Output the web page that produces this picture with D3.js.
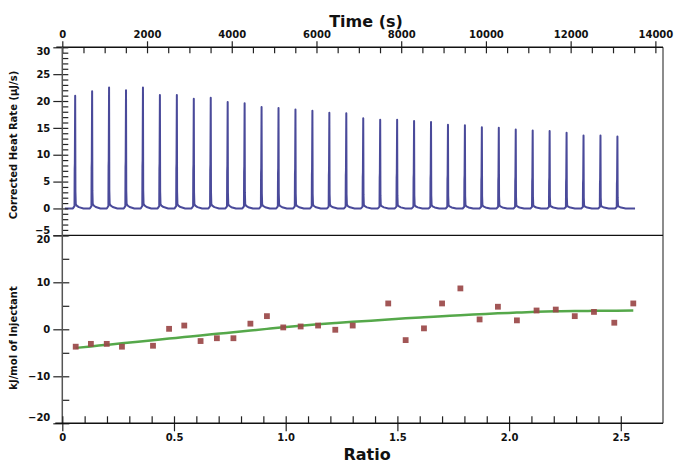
<!DOCTYPE html>
<html>
<head>
<meta charset="utf-8">
<script src="https://cdn.jsdelivr.net/npm/d3@7"></script>
<style>
  html, body { margin: 0; padding: 0; background: #fff; }
  svg { display: block; }
  text { font-family: "DejaVu Sans", sans-serif; font-weight: bold; fill: #111; }
</style>
</head>
<body>
<svg id="chart" width="683" height="472"></svg>
<script>
// ---------- data ----------
const timeTicks = [0, 2000, 4000, 6000, 8000, 10000, 12000, 14000];
const heatRateTicks = [-5, 0, 5, 10, 15, 20, 25, 30];
const ratioTicks = [0, 0.5, 1.0, 1.5, 2.0, 2.5];
const ratioTickLabels = ["0", "0.5", "1.0", "1.5", "2.0", "2.5"];
const enthalpyTicks = [-20, -10, 0, 10, 20];

const injectionTimes = [300, 700, 1100, 1500, 1900, 2300, 2700, 3100, 3500, 3900, 4300,
  4700, 5100, 5500, 5900, 6300, 6700, 7100, 7500, 7900, 8300, 8700, 9100, 9500, 9900,
  10300, 10700, 11100, 11500, 11900, 12300, 12700, 13100];
const peakHeights = [21.0, 21.8, 22.5, 22.0, 22.5, 21.1, 21.1, 20.4, 20.6, 19.8, 19.6,
  18.9, 18.7, 18.4, 18.2, 17.8, 17.7, 16.8, 16.5, 16.5, 16.3, 16.1, 15.6, 15.5, 15.1,
  15.0, 14.7, 14.5, 14.4, 14.1, 13.6, 13.6, 13.4];
// shape of one injection peak: time offset (s) and fraction of peak height
const peakOffsets = [-50, -12, -8, -4, 4, 10, 18, 40, 90, 200];
const peakFractions = [0, 0.02, 0.35, 0.4, 1, 0.15, 0.04, 0.025, 0.012, 0];
const traceStart = 60, traceEnd = 13520;

const ratios = [0.060, 0.128, 0.199, 0.267, 0.406, 0.478, 0.546, 0.619, 0.692, 0.766,
  0.842, 0.916, 0.989, 1.067, 1.145, 1.222, 1.300, 1.459, 1.537, 1.619, 1.700, 1.782,
  1.868, 1.950, 2.035, 2.123, 2.209, 2.294, 2.380, 2.471, 2.556];
const heats = [-3.7, -3.1, -3.1, -3.7, -3.5, 0.1, 0.8, -2.5, -1.9, -1.9, 1.2, 2.8, 0.4,
  0.6, 0.8, -0.1, 0.8, 5.5, -2.3, 0.2, 5.5, 8.7, 2.1, 4.8, 1.9, 4.0, 4.2, 2.8, 3.7, 1.4, 5.5];
const fitHeats = [-3.96, -3.64, -3.30, -2.98, -2.32, -1.98, -1.66, -1.31, -0.97, -0.62,
  -0.26, 0.09, 0.43, 0.75, 1.05, 1.33, 1.60, 2.06, 2.33, 2.56, 2.77, 2.99, 3.20, 3.40,
  3.56, 3.72, 3.82, 3.89, 3.93, 3.97, 3.99];

// ---------- layout ----------
const left = 62.3, right = 663;
const topY = 47.3, midY = 235.3, botY = 423.3;

const svg = d3.select("#chart");

const xTime = d3.scaleLinear().domain([0, 14180]).range([left, right]);
const yRate = d3.scaleLinear().domain([-5, 30]).range([midY, topY]);
const xRatio = d3.scaleLinear().domain([0, 2.689]).range([left, right]);
const yHeat = d3.scaleLinear().domain([-20, 20]).range([botY, midY]);

// ---------- thermogram trace ----------
const trace = [[traceStart, 0]];
injectionTimes.forEach((t, i) => {
  peakOffsets.forEach((o, k) => trace.push([t + o, peakHeights[i] * peakFractions[k]]));
});
trace.push([traceEnd, 0]);

svg.append("path")
  .datum(trace)
  .attr("fill", "none")
  .attr("stroke", "#4a4a9a")
  .attr("stroke-width", 2)
  .attr("stroke-linejoin", "round")
  .attr("d", d3.line().x(d => xTime(d[0])).y(d => yRate(d[1])));

// ---------- bottom panel: fit line and points ----------
svg.append("path")
  .datum(ratios.map((r, i) => [r, fitHeats[i]]))
  .attr("fill", "none")
  .attr("stroke", "#55a84a")
  .attr("stroke-width", 2.5)
  .attr("d", d3.line().curve(d3.curveMonotoneX).x(d => xRatio(d[0])).y(d => yHeat(d[1])));

const sq = 5.8;
svg.append("g").selectAll("rect")
  .data(ratios.map((r, i) => [r, heats[i]]))
  .join("rect")
  .attr("x", d => xRatio(d[0]) - sq / 2)
  .attr("y", d => yHeat(d[1]) - sq / 2)
  .attr("width", sq).attr("height", sq)
  .attr("fill", "#9a4848")
  .attr("opacity", 0.92);

// ---------- frame ----------
svg.append("line").attr("x1", right).attr("x2", right).attr("y1", topY).attr("y2", botY)
  .attr("stroke", "#666").attr("stroke-width", 1.5);
svg.append("line").attr("x1", left).attr("x2", right).attr("y1", midY).attr("y2", midY)
  .attr("stroke", "#111").attr("stroke-width", 1.2);

function styleAxis(g) {
  g.select(".domain").remove();
  g.selectAll("line").attr("stroke", "#222").attr("stroke-width", 1.2);
  g.selectAll("text").attr("font-size", 10).attr("fill", "#111")
    .attr("font-family", "DejaVu Sans").attr("font-weight", "bold");
}

// top time axis
svg.append("g").attr("transform", `translate(0,${topY})`)
  .call(d3.axisTop(xTime).tickValues(timeTicks).tickSize(6).tickPadding(3).tickFormat(d3.format("d")))
  .call(styleAxis);
svg.append("g").attr("transform", `translate(0,${topY})`)
  .call(d3.axisBottom(xTime).tickValues(d3.range(0, 14001, 500)).tickSize(6).tickFormat(""))
  .call(styleAxis);
svg.append("line").attr("x1", left - 6).attr("x2", right).attr("y1", topY).attr("y2", topY)
  .attr("stroke", "#111").attr("stroke-width", 1.4);

// left axis top panel
const gRate = svg.append("g").attr("transform", `translate(${left},0)`)
  .call(d3.axisLeft(yRate).tickValues(heatRateTicks).tickSize(9).tickPadding(3))
  .call(styleAxis);
gRate.selectAll(".tick text").attr("dy", d => d === 30 ? "0.75em" : d === -5 ? "-0.2em" : "0.32em");
svg.append("g").attr("transform", `translate(${left},0)`)
  .call(d3.axisRight(yRate).tickValues(d3.range(-5, 31, 1)).tickSize(6).tickFormat(""))
  .call(styleAxis);

// left axis bottom panel
const gHeat = svg.append("g").attr("transform", `translate(${left},0)`)
  .call(d3.axisLeft(yHeat).tickValues(enthalpyTicks).tickSize(9).tickPadding(3))
  .call(styleAxis);
gHeat.selectAll(".tick text").attr("dy", d => d === 20 ? "0.75em" : d === -20 ? "-0.25em" : "0.32em");
svg.append("g").attr("transform", `translate(${left},0)`)
  .call(d3.axisRight(yHeat).tickValues(d3.range(-20, 21, 5)).tickSize(7).tickFormat(""))
  .call(styleAxis);

svg.append("line").attr("x1", left).attr("x2", left).attr("y1", topY).attr("y2", botY)
  .attr("stroke", "#555").attr("stroke-width", 1.5);

// bottom ratio axis
svg.append("g").attr("transform", `translate(0,${botY})`)
  .call(d3.axisBottom(xRatio).tickValues(ratioTicks).tickSize(8).tickPadding(3)
    .tickFormat((d, i) => ratioTickLabels[i]))
  .call(styleAxis);
svg.append("g").attr("transform", `translate(0,${botY})`)
  .call(d3.axisTop(xRatio).tickValues(d3.range(0, 26).map(i => i / 10)).tickSize(7).tickFormat(""))
  .call(styleAxis);
svg.append("line").attr("x1", left - 7).attr("x2", right).attr("y1", botY).attr("y2", botY)
  .attr("stroke", "#111").attr("stroke-width", 1.4);

// ---------- titles ----------
svg.append("text").attr("x", 366).attr("y", 27).attr("text-anchor", "middle")
  .attr("font-size", 16).text("Time (s)");
svg.append("text").attr("x", 367).attr("y", 460).attr("text-anchor", "middle")
  .attr("font-size", 16).text("Ratio");
svg.append("text").attr("transform", "translate(17,145) rotate(-90)").attr("text-anchor", "middle")
  .attr("font-size", 10).text("Corrected Heat Rate (µJ/s)");
svg.append("text").attr("transform", "translate(17,338) rotate(-90)").attr("text-anchor", "middle")
  .attr("font-size", 10).text("kJ/mol of Injectant");
</script>
</body>
</html>
